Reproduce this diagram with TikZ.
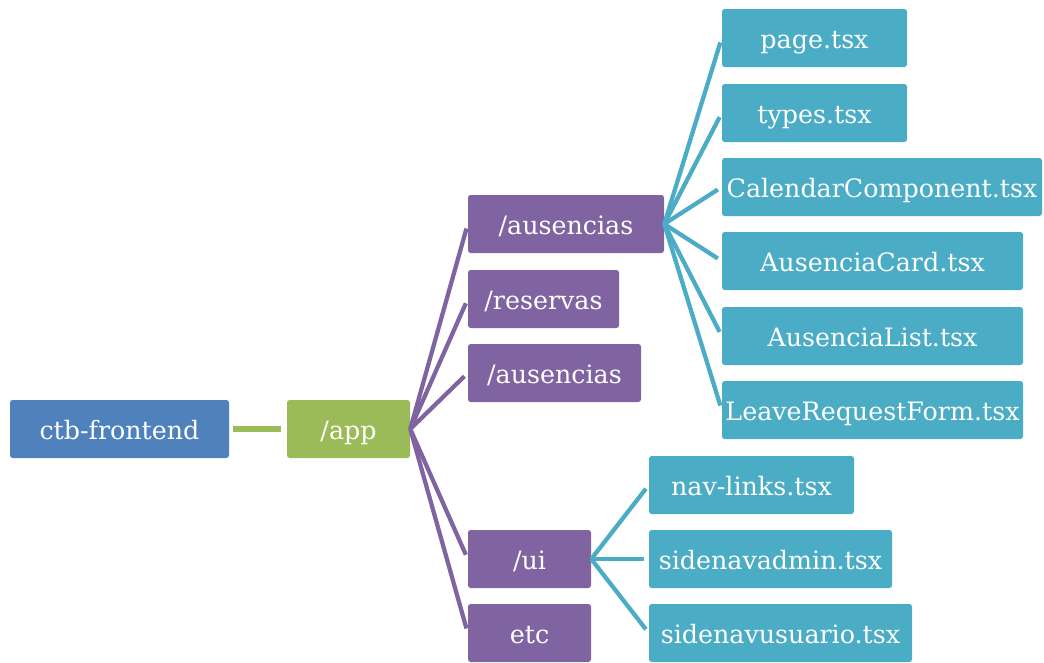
\documentclass[tikz,border=0pt]{standalone}
\usepackage{fontspec}
\setmainfont{DejaVu Serif}
\definecolor{rootblue}{HTML}{4F81BD}
\definecolor{appgreen}{HTML}{9BBB59}
\definecolor{dirpurple}{HTML}{8064A2}
\definecolor{fileteal}{HTML}{4BACC6}
\tikzset{
  box/.style={rounded corners=2pt, inner sep=0pt, minimum height=58*0.75pt,
    text height=15pt, text depth=0pt,
    text=white, font=\fontsize{19}{22}\selectfont},
  rootbox/.style={box, fill=rootblue},
  appbox/.style={box, fill=appgreen},
  dirbox/.style={box, fill=dirpurple},
  filebox/.style={box, fill=fileteal},
  link/.style={line width=3.2pt, shorten >=3.5pt},
}
\begin{document}
\begin{tikzpicture}[x=0.75pt, y=-0.75pt]
\useasboundingbox (0,0) rectangle (1044,662);
% root and app
\node[rootbox, minimum width=219*0.75pt] (root) at (119.5,429) {ctb-frontend};
\node[appbox, minimum width=123*0.75pt] (app) at (348.5,429) {/app};
% directories
\node[dirbox, minimum width=196*0.75pt] (aus) at (566,224) {/ausencias};
\node[dirbox, minimum width=151*0.75pt] (res) at (543.5,299) {/reservas};
\node[dirbox, minimum width=173*0.75pt] (aus2) at (554.5,373) {/ausencias};
\node[dirbox, minimum width=123*0.75pt] (ui) at (529.5,559) {/ui};
\node[dirbox, minimum width=123*0.75pt] (etc) at (529.5,633) {etc};
% files under /ausencias
\node[filebox, minimum width=185*0.75pt] (page) at (814.5,38) {page.tsx};
\node[filebox, minimum width=185*0.75pt] (types) at (814.5,113) {types.tsx};
\node[filebox, minimum width=320*0.75pt] (cal) at (882,187) {CalendarComponent.tsx};
\node[filebox, minimum width=301*0.75pt] (card) at (872.5,261) {AusenciaCard.tsx};
\node[filebox, minimum width=301*0.75pt] (list) at (872.5,336) {AusenciaList.tsx};
\node[filebox, minimum width=301*0.75pt] (form) at (872.5,410) {LeaveRequestForm.tsx};
% files under /ui
\node[filebox, minimum width=205*0.75pt] (nav) at (751.5,485) {nav-links.tsx};
\node[filebox, minimum width=243*0.75pt] (sadm) at (770.5,559) {sidenavadmin.tsx};
\node[filebox, minimum width=263*0.75pt] (susr) at (780.5,633) {sidenavusuario.tsx};
% connectors
\draw[appgreen, line width=3.8pt, shorten <=3pt, shorten >=4pt] (root) -- (app);
\foreach \c in {aus,res,aus2,ui,etc}
  \draw[link, dirpurple] (app.east) -- (\c.west);
\foreach \c in {page,types,cal,card,list,form}
  \draw[link, fileteal] (aus.east) -- (\c.west);
\foreach \c in {nav,sadm,susr}
  \draw[link, fileteal] (ui.east) -- (\c.west);
\end{tikzpicture}
\end{document}
